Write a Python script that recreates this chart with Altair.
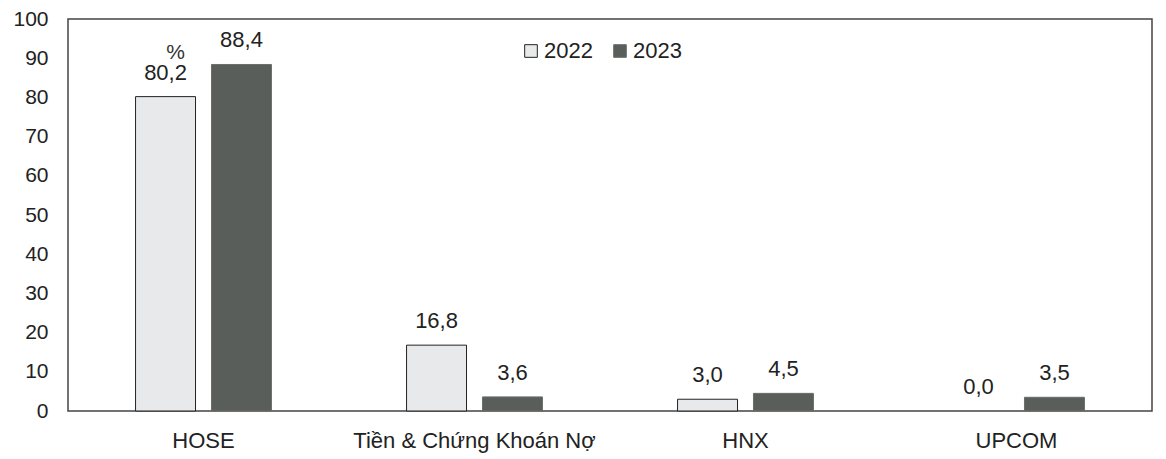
import altair as alt
import pandas as pd

categories = ["HOSE", "Tiền & Chứng Khoán Nợ", "HNX", "UPCOM"]
values_2022 = [80.2, 16.8, 3.0, 0.0]
values_2023 = [88.4, 3.6, 4.5, 3.5]
years = ["2022", "2023"]

rows = []
for c, a, b in zip(categories, values_2022, values_2023):
    rows.append({"cat": c, "year": "2022", "value": a})
    rows.append({"cat": c, "year": "2023", "value": b})
df = pd.DataFrame(rows)
df["label"] = df["value"].map(lambda v: f"{v:.1f}".replace(".", ","))

FONT = "Liberation Sans"
FS = 21

x = alt.X("cat:N", sort=categories, title=None,
          scale=alt.Scale(paddingInner=0, paddingOuter=0),
          axis=alt.Axis(labelAngle=0, labelFontSize=22, labelColor="#222",
                        labelFont=FONT, ticks=False, domain=False, labelPadding=19,
                        labelLimit=0))
xo = alt.XOffset("year:N", sort=years,
                 scale=alt.Scale(paddingInner=0.21, paddingOuter=0.89))
y = alt.Y("value:Q", title="%",
          scale=alt.Scale(domain=[0, 100], nice=False),
          axis=alt.Axis(values=list(range(0, 101, 10)), tickCount=11, grid=False,
                        ticks=False, domain=False, labelFontSize=FS, labelColor="#222",
                        labelFont=FONT, labelPadding=20, labelOverlap=False,
                        labelFlush=False,
                        titleAngle=0, titleX=107, titleY=33, titleFontSize=FS,
                        titleFont=FONT, titleFontWeight="normal", titleColor="#333",
                        titleAlign="center", titleBaseline="middle"))

color = alt.Color("year:N", sort=years,
                  scale=alt.Scale(domain=years, range=["#e8e9eb", "#5a5e5a"]),
                  legend=alt.Legend(title=None, orient="none", direction="horizontal",
                                    legendX=452, legendY=21, symbolType="square",
                                    symbolSize=160, symbolStrokeWidth=1,
                                    labelFontSize=22, labelFont=FONT, labelColor="#222",
                                    columnPadding=16, labelOffset=2))

bars = alt.Chart(df).mark_bar(strokeWidth=1).encode(
    x=x, xOffset=xo, y=y, color=color,
    stroke=alt.Stroke("year:N", scale=alt.Scale(domain=years, range=["#222", "#6a6e6a"]),
                      legend=None),
    strokeOpacity=alt.condition("datum.value > 0", alt.value(1), alt.value(0)),
)

labels = alt.Chart(df).mark_text(baseline="bottom", dy=-12, fontSize=22,
                                 font=FONT, color="#222").encode(
    x=x, xOffset=xo, y=y, text="label:N"
)

chart = alt.layer(bars, labels).properties(
    width=1084, height=392,
    autosize=alt.AutoSizeParams(type="none"),
    padding={"left": 60, "top": 11, "right": 6, "bottom": 48},
    background="white",
).configure_view(stroke="#444", strokeWidth=1.5)

chart.save("out.html", embed_options={"renderer": "svg", "actions": False})
